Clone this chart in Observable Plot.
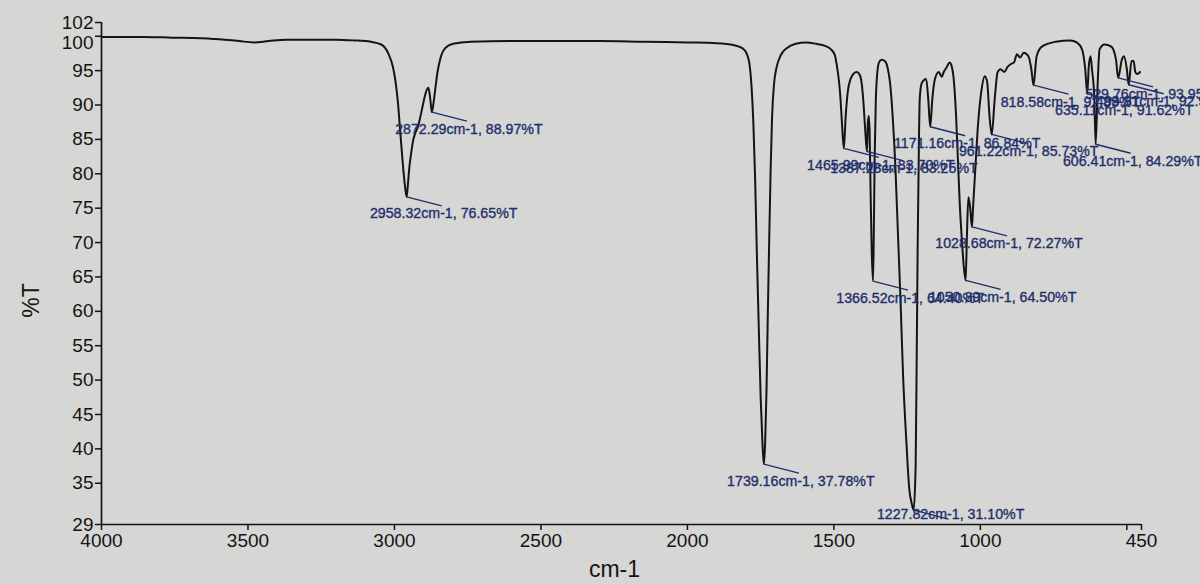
<!DOCTYPE html>
<html><head><meta charset="utf-8">
<script src="https://cdn.jsdelivr.net/npm/d3@7"></script>
<script src="https://cdn.jsdelivr.net/npm/@observablehq/plot@0.6"></script>
<style>
html,body{margin:0;padding:0;background:#d6d6d4;}
</style></head><body><div id="chart"></div>
<script>
// Spectrum: wavenumber (cm-1) and transmittance (%T)
const wavenumber = [
4000,3940,3860,3760,3660,3580,3530,3480,3430,3370,3300,3200,3140,3080,3045,3020,3005,2997,2988,2981,2975,2968,2963,2958.32,2954,2949,2943,2936,2928,2920,2912,2903,2893,2884,2878,2872.29,2866,2861,2853,2843,2826,2800,2740,2600,2450,2300,2150,2000,1900,1840,1810,1796,1788,1781,1775,1769,1763,1756,1750,1744,1739.16,1735,1730,1726,1721,1716,1711,1704,1696,1682,1660,1630,1595,1560,1530,1510,1497,1489,1482,1477,1472,1465.99,1460,1453,1443,1432,1422,1412,1405,1399,1393,1387.23,1384,1381,1378,1375,1371,1366.52,1364,1361,1357,1352,1346,1337,1326,1317,1308,1299,1290,1281,1272,1264,1252,1243,1234,1227.82,1221,1217,1214,1210,1207,1200,1185,1178,1171.16,1164,1155,1142,1132,1125,1115,1105,1099,1092,1083,1077,1070,1063,1057,1050.39,1046,1041,1035,1028.68,1025,1017,1009,997,985,977,969,961.22,951,941,931,918,908,898,885,875,865,852,836,826,818.58,808,790,743,693,671,653,642,635.11,630,624,619,611,606.41,599,593,576,553,537,529.76,517,510,500,493.91,484,477,471,464,455
];
const transmittance = [
99.9,99.9,99.9,99.8,99.7,99.5,99.3,99.1,99.3,99.5,99.5,99.5,99.4,99.2,98.8,97.4,95.5,93.6,90.3,86.5,83.3,79.8,77.8,76.65,78.5,81.0,83.0,84.9,86.0,86.8,88.2,90.0,91.8,92.5,91.0,88.97,90.5,92.2,94.8,96.8,98.3,98.9,99.2,99.3,99.3,99.3,99.2,99.1,99.0,98.7,98.2,97.3,95.9,92.6,87.5,79.5,68.5,57.0,47.5,41.0,37.78,40.5,48.5,58.5,70.0,80.5,88.3,93.2,95.4,97.2,98.3,98.9,99.1,98.9,98.6,98.1,97.3,95.5,93.2,90.6,87.0,83.70,88.2,91.8,93.8,94.6,94.8,94.4,93.1,90.3,86.3,83.25,87.4,88.4,86.0,78.0,69.0,64.40,70.5,82.0,90.5,94.6,96.2,96.6,96.4,95.5,93.1,88.1,80.9,70.9,60.9,50.8,40.6,34.3,32.0,31.10,37.5,55.0,69.6,83.8,90.9,93.2,93.8,90.9,86.84,90.9,93.8,94.8,94.1,94.8,95.5,96.2,95.8,94.2,88.5,82.4,75.3,70.3,66.7,64.50,70.9,76.6,75.1,72.27,75.1,80.9,86.6,91.9,94.2,93.4,88.5,85.73,90.9,94.8,95.2,94.8,95.5,95.9,96.2,97.4,96.9,97.6,97.1,95.2,92.89,97.1,98.5,99.2,99.4,99.1,98.1,95.2,91.62,95.6,97.1,95.2,90.9,84.29,93.8,98.1,98.8,98.5,96.6,93.95,96.6,97.1,95.2,92.95,96.4,96.4,94.8,94.5,94.8
];

// Annotated peaks
const peakWavenumber = [2958.32,2872.29,1739.16,1465.99,1387.23,1366.52,1227.82,1171.16,1050.39,1028.68,961.22,818.58,635.11,606.41,529.76,493.91];
const peakTransmittance = [76.65,88.97,37.78,83.70,83.25,64.40,31.10,86.84,64.50,72.27,85.73,92.89,91.62,84.29,93.95,92.95];

// Axes
const xTicks = [4000,3500,3000,2500,2000,1500,1000,500,450];
const xTickLabels = ["4000","3500","3000","2500","2000","1500","1000","","450"];
const yTicks = [29,35,40,45,50,55,60,65,70,75,80,85,90,95,100,102];
const xAxisTitle = "cm-1";
const yAxisTitle = "%T";

const xDomain = [4000, 450], xRange = [101, 1141];
const yDomain = [29, 102], yRange = [524, 22];

function makeScale(key, opts) {
  try {
    const s = Plot.scale({[key]: opts});
    if (s && typeof s.apply === "function" && typeof s.invert === "function") return s;
  } catch (e) {}
  const d = d3.scaleLinear().domain(opts.domain).range(opts.range);
  return {apply: d, invert: d.invert};
}
const xs = makeScale("x", {domain: xDomain, range: xRange});
const ys = makeScale("y", {domain: yDomain, range: yRange});
const yBottom = ys.apply(yDomain[0]);

const spectrum = wavenumber.map((w, i) => ({w, t: transmittance[i]}));
const peaks = peakWavenumber.map((w, i) => {
  const t = peakTransmittance[i];
  const px = xs.apply(w), py = ys.apply(t);
  return {
    w, t,
    label: `${w.toFixed(2)}cm-1, ${t.toFixed(2)}%T`,
    w2: xs.invert(px + 35), t2: ys.invert(Math.min(py + 9, yBottom - 4)),
    wl: xs.invert(px + 37), tl: ys.invert(Math.min(py + 17, yBottom - 10))
  };
});

const ink = "#141414";
const navy = "#1f2e6c";

const chart = Plot.plot({
  width: 1200, height: 584,
  marginLeft: 101, marginRight: 59, marginTop: 22, marginBottom: 60,
  x: {domain: xDomain, range: xRange, label: null},
  y: {domain: yDomain, range: yRange, label: null},
  style: {background: "#d6d6d4", fontFamily: "'Liberation Sans', Arial, sans-serif", fontSize: "19px", color: ink},
  marks: [
    Plot.ruleX([xDomain[0]], {stroke: ink, strokeWidth: 1.7}),
    Plot.ruleY([yDomain[0]], {stroke: ink, strokeWidth: 1.7}),
    Plot.axisX({ticks: xTicks, tickFormat: d => xTickLabels[xTicks.indexOf(d)], tickSize: 6, tickPadding: 3, stroke: ink, strokeWidth: 1.5, fill: ink, fontSize: 19, label: null}),
    Plot.axisY({ticks: yTicks, tickFormat: d => d === 100 ? "" : String(d), tickSize: 6, tickPadding: 2, stroke: ink, strokeWidth: 1.5, fill: ink, fontSize: 19, label: null}),
    Plot.text(yTicks.filter(d => d === 100), {y: d => d, frameAnchor: "left", textAnchor: "end", dx: -8, dy: 7, fontSize: 19, fill: ink}),
    Plot.line(spectrum, {x: "w", y: "t", stroke: ink, strokeWidth: 2, curve: "monotone-x"}),
    Plot.link(peaks, {x1: "w", y1: "t", x2: "w2", y2: "t2", stroke: navy, strokeWidth: 1.4}),
    Plot.text(peaks, {x: "wl", y: "tl", text: "label", fill: navy, stroke: navy, strokeWidth: 0.35, fontSize: 14.2, textAnchor: "middle"}),
    Plot.text([xAxisTitle], {frameAnchor: "bottom", lineAnchor: "middle", dx: -7, dy: 45, fontSize: 23, fill: ink}),
    Plot.text([yAxisTitle], {frameAnchor: "left", textAnchor: "middle", lineAnchor: "middle", dx: -70, dy: 27, rotate: -90, fontSize: 23, fill: ink})
  ]
});
document.getElementById("chart").appendChild(chart);
</script>
</body></html>
